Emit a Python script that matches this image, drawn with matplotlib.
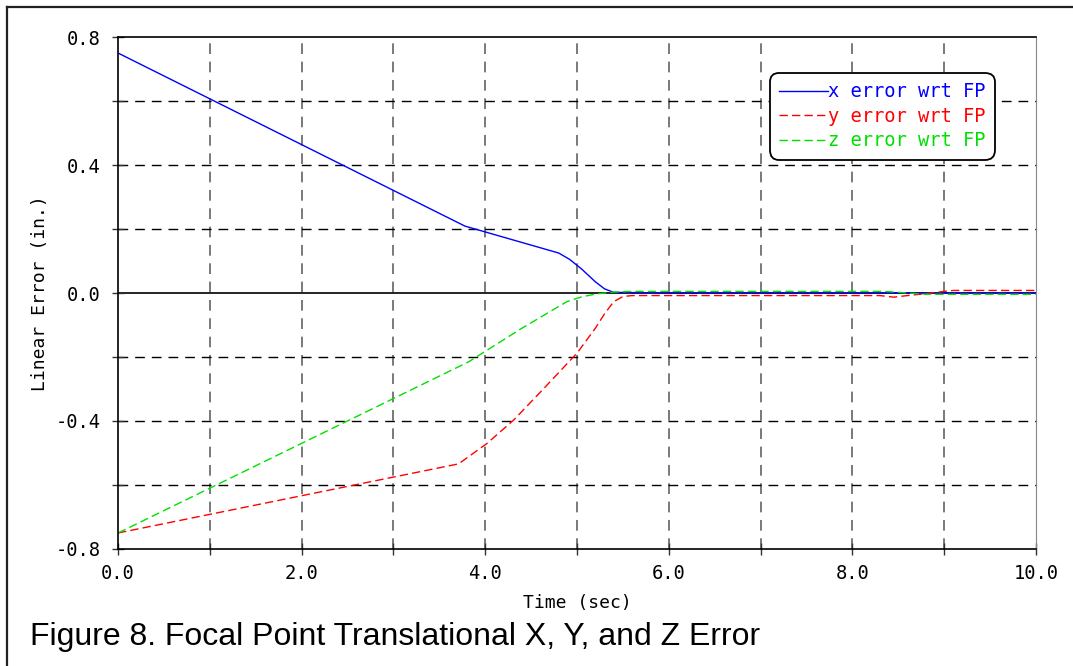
import matplotlib

matplotlib.use("Agg")

import matplotlib.pyplot as plt
from matplotlib.lines import Line2D
from matplotlib.ticker import FixedLocator, FixedFormatter

# time samples (sec) and errors (in.)
x_time = [0.0, 3.78, 4.80, 4.92, 5.05, 5.20, 5.30, 5.40, 6.0, 8.0, 10.0]
x_error = [0.75, 0.209, 0.125, 0.105, 0.075, 0.035, 0.013, 0.002, 0.0, 0.0, 0.0]

y_time = [0.0, 3.71, 4.02, 4.31, 4.60, 5.00, 5.20, 5.30, 5.40, 5.50, 5.60,
          8.30, 8.45, 8.60, 8.80, 9.00, 9.10, 10.0]
y_error = [-0.75, -0.534, -0.47, -0.397, -0.31, -0.188, -0.11, -0.065, -0.027,
           -0.011, -0.008, -0.008, -0.013, -0.008, -0.002, 0.005, 0.008, 0.008]

z_time = [0.0, 3.82, 4.40, 4.89, 5.05, 5.21, 5.40, 5.60, 8.35, 8.60, 8.80, 10.0]
z_error = [-0.75, -0.215, -0.11, -0.027, -0.012, -0.003, 0.003, 0.005, 0.005,
           0.0, -0.004, -0.004]

x_ticks = [0, 2, 4, 6, 8, 10]
x_tick_labels = ["0.0", "2.0", "4.0", "6.0", "8.0", "10.0"]
x_grid = [1, 2, 3, 4, 5, 6, 7, 8, 9]
x_minor = [1, 3, 5, 7, 9]
y_ticks = [-0.8, -0.4, 0.0, 0.4, 0.8]
y_tick_labels = ["-0.8", "-0.4", "0.0", "0.4", "0.8"]
y_grid = [-0.6, -0.4, -0.2, 0.2, 0.4, 0.6]
y_minor = [-0.6, -0.2, 0.2, 0.6]

MONO = "DejaVu Sans Mono"

fig = plt.figure(figsize=(10.73, 6.66), dpi=100)
ax = fig.add_axes([0.110, 0.1757, 0.8555, 0.7687])

# dashed grid, kept off the frame edges
for gx in x_grid:
    ax.axvline(gx, color="#555555", ls=(0, (7, 5)), lw=1.1, zorder=0.5)
for gy in y_grid:
    ax.axhline(gy, color="black", ls=(0, (7, 5)), lw=1.0, zorder=0.5)
ax.axhline(0.0, color="black", lw=1.2, zorder=1)

ax.plot(x_time, x_error, color="#0000ff", lw=1.0, label="x error wrt FP")
ax.plot(y_time, y_error, color="#ff0000", lw=1.0, dashes=(6, 3), label="y error wrt FP")
ax.plot(z_time, z_error, color="#00e000", lw=1.0, dashes=(6, 3), label="z error wrt FP")

ax.set_xlim(0, 10)
ax.set_ylim(-0.8, 0.8)

ax.xaxis.set_major_locator(FixedLocator(x_ticks))
ax.xaxis.set_major_formatter(FixedFormatter(x_tick_labels))
ax.xaxis.set_minor_locator(FixedLocator(x_minor))
ax.yaxis.set_major_locator(FixedLocator(y_ticks))
ax.yaxis.set_major_formatter(FixedFormatter(y_tick_labels))
ax.yaxis.set_minor_locator(FixedLocator(y_minor))

ax.tick_params(which="both", direction="inout", length=9, width=1.0, color="#333333")
ax.tick_params(axis="x", which="major", pad=6)
ax.tick_params(axis="y", which="major", pad=8)
for lab in ax.get_xticklabels() + ax.get_yticklabels():
    lab.set_fontfamily(MONO)
    lab.set_fontsize(13.5)

for side in ["left", "top", "bottom"]:
    ax.spines[side].set_color("black")
    ax.spines[side].set_linewidth(1.2)
ax.spines["right"].set_color("#888888")

ax.set_xlabel("Time (sec)", fontfamily=MONO, fontsize=13, labelpad=8)
ax.set_ylabel("Linear Error (in.)", fontfamily=MONO, fontsize=13, labelpad=5)

leg = ax.legend(loc="upper right", bbox_to_anchor=(0.955, 0.93),
                prop={"family": MONO, "size": 13.5}, labelcolor="linecolor",
                fancybox=True, framealpha=1.0, edgecolor="black",
                handlelength=2.6, handletextpad=0.0, labelspacing=0.3,
                borderpad=0.5, borderaxespad=0.0)
leg.get_frame().set_linewidth(1.3)
leg.get_frame().set_boxstyle("round", pad=0.0, rounding_size=0.5)

# outer frame, only top and left edges fall inside the picture
fig.add_artist(Line2D([7 / 1073, 1.0], [1 - 7 / 666, 1 - 7 / 666],
                      color="#222222", lw=1.6, transform=fig.transFigure))
fig.add_artist(Line2D([7 / 1073, 7 / 1073], [0.0, 1 - 7 / 666],
                      color="#222222", lw=1.6, transform=fig.transFigure))

fig.text(30 / 1073, 0.0315, "Figure 8. Focal Point Translational X, Y, and Z Error",
         fontfamily="Liberation Sans", fontsize=23, va="baseline", ha="left")

fig.savefig("out.png", dpi=100)
